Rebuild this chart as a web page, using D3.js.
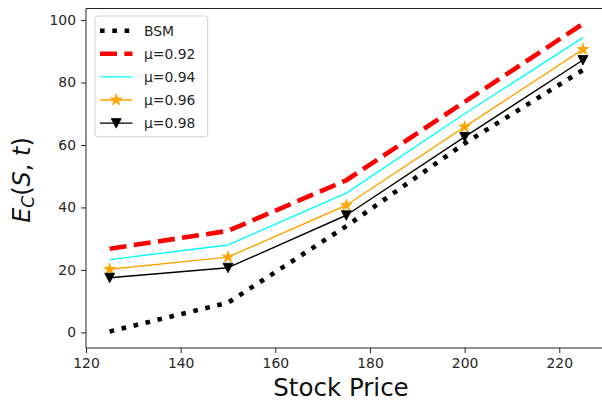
<!DOCTYPE html>
<html>
<head>
<meta charset="utf-8">
<script src="https://cdn.jsdelivr.net/npm/d3@7"></script>
<style>
  html, body { margin: 0; padding: 0; background: #fff; }
  svg { display: block; font-family: "DejaVu Sans", sans-serif; }
</style>
</head>
<body>
<svg id="chart" width="602" height="404"></svg>
<script>
// Stock prices on the x axis
const stockPrice = [125, 150, 175, 200, 225];

// Expected option value for each model
const bsm   = [0.3, 9.5, 34.0, 60.5, 84.0];
const mu092 = [26.8, 32.5, 48.7, 73.8, 98.8];
const mu094 = [23.3, 28.0, 44.6, 70.0, 94.4];
const mu096 = [20.2, 24.1, 40.7, 65.8, 90.6];
const mu098 = [17.5, 20.7, 37.5, 62.6, 87.2];

const seriesNames = ["BSM", "μ=0.92", "μ=0.94", "μ=0.96", "μ=0.98"];

const xTicks = [120, 140, 160, 180, 200, 220];
const yTicks = [0, 20, 40, 60, 80, 100];

const svg = d3.select("#chart");

const plotLeft = 86, plotRight = 606.6, plotTop = 8.5, plotBottom = 348;

const x = d3.scaleLinear().domain([120, 230]).range([plotLeft, plotRight]);
const y = d3.scaleLinear().domain([-5, 103.7]).range([plotBottom, plotTop]);

const styles = [
  { values: bsm,   color: "#000000", width: 4.6, dash: "4.6,7.7", marker: null },
  { values: mu092, color: "#ff0000", width: 4.6, dash: "17,7.4", marker: null },
  { values: mu094, color: "#00ffff", width: 1.4, dash: null, marker: null },
  { values: mu096, color: "#ffa500", width: 1.4, dash: null, marker: "star" },
  { values: mu098, color: "#000000", width: 1.4, dash: null, marker: "tri" }
];

svg.append("defs").append("clipPath").attr("id", "plotclip")
  .append("rect").attr("x", plotLeft).attr("y", plotTop)
  .attr("width", plotRight - plotLeft).attr("height", plotBottom - plotTop);

const line = d3.line().x((d, i) => x(stockPrice[i])).y(d => y(d));

const starPath = d3.symbol().type(d3.symbolStar).size(42)();
const triPath = "M-5,-4.5L5,-4.5L0,5Z";

function drawMarker(g, kind, color, cx, cy) {
  if (kind === "star") {
    g.append("path").attr("d", starPath)
      .attr("transform", `translate(${cx},${cy})`)
      .attr("fill", color).attr("stroke", color).attr("stroke-width", 0.8);
  } else if (kind === "tri") {
    g.append("path").attr("d", triPath)
      .attr("transform", `translate(${cx},${cy})`)
      .attr("fill", color).attr("stroke", color).attr("stroke-width", 0.8);
  }
}

const plot = svg.append("g").attr("clip-path", "url(#plotclip)");

styles.forEach(s => {
  const p = plot.append("path")
    .datum(s.values)
    .attr("d", line)
    .attr("fill", "none")
    .attr("stroke", s.color)
    .attr("stroke-width", s.width)
    .attr("stroke-linejoin", "round");
  if (s.dash) p.attr("stroke-dasharray", s.dash);
  if (s.marker) {
    s.values.forEach((v, i) => drawMarker(plot, s.marker, s.color, x(stockPrice[i]), y(v)));
  }
});

// Axes
const xAxis = d3.axisBottom(x).tickValues(xTicks).tickSize(5).tickPadding(5);
const yAxis = d3.axisLeft(y).tickValues(yTicks).tickSize(5).tickPadding(5);

const gx = svg.append("g").attr("transform", `translate(0,${plotBottom})`).call(xAxis);
const gy = svg.append("g").attr("transform", `translate(${plotLeft},0)`).call(yAxis);

[gx, gy].forEach(g => {
  g.select(".domain").remove();
  g.selectAll(".tick line").attr("stroke", "#222").attr("stroke-width", 1);
  g.selectAll(".tick text").attr("fill", "#262626")
    .style("font-size", "13.9px").style("font-family", "DejaVu Sans");
});

// Spines (left, bottom, top; the right edge falls outside the figure)
svg.append("line").attr("x1", plotLeft).attr("x2", plotLeft).attr("y1", plotTop).attr("y2", plotBottom)
  .attr("stroke", "#222").attr("stroke-width", 1);
svg.append("line").attr("x1", plotLeft).attr("x2", plotRight).attr("y1", plotBottom).attr("y2", plotBottom)
  .attr("stroke", "#222").attr("stroke-width", 1);
svg.append("line").attr("x1", plotLeft).attr("x2", plotRight).attr("y1", plotTop).attr("y2", plotTop)
  .attr("stroke", "#222").attr("stroke-width", 1);

// Axis labels
svg.append("text")
  .attr("x", 341).attr("y", 396)
  .attr("text-anchor", "middle")
  .attr("fill", "#111")
  .style("font-size", "24.5px")
  .text("Stock Price");

const yl = svg.append("text")
  .attr("transform", "translate(30,180) rotate(-90)")
  .attr("text-anchor", "middle")
  .attr("fill", "#111")
  .style("font-size", "24px");
yl.append("tspan").style("font-style", "italic").text("E");
yl.append("tspan").style("font-style", "italic").style("font-size", "17px").attr("dy", 4).text("C");
yl.append("tspan").attr("dy", -4).text("(");
yl.append("tspan").style("font-style", "italic").text("S");
yl.append("tspan").text(", ");
yl.append("tspan").style("font-style", "italic").text("t");
yl.append("tspan").text(")");

// Legend
const lg = svg.append("g");
lg.append("rect")
  .attr("x", 95).attr("y", 16).attr("width", 112.7).attr("height", 120.7)
  .attr("rx", 3).attr("fill", "#fff").attr("fill-opacity", 0.8)
  .attr("stroke", "#d0d0d0").attr("stroke-width", 1);

styles.forEach((s, i) => {
  const cy = 30.7 + i * 23.1;
  const l = lg.append("line")
    .attr("x1", 100).attr("x2", 132.5).attr("y1", cy).attr("y2", cy)
    .attr("stroke", s.color).attr("stroke-width", s.width);
  if (s.dash) l.attr("stroke-dasharray", s.dash);
  if (s.marker) drawMarker(lg, s.marker, s.color, 116.2, cy);
  lg.append("text")
    .attr("x", 144).attr("y", cy + 5)
    .attr("fill", "#262626")
    .style("font-size", "13.9px")
    .text(seriesNames[i]);
});
</script>
</body>
</html>
